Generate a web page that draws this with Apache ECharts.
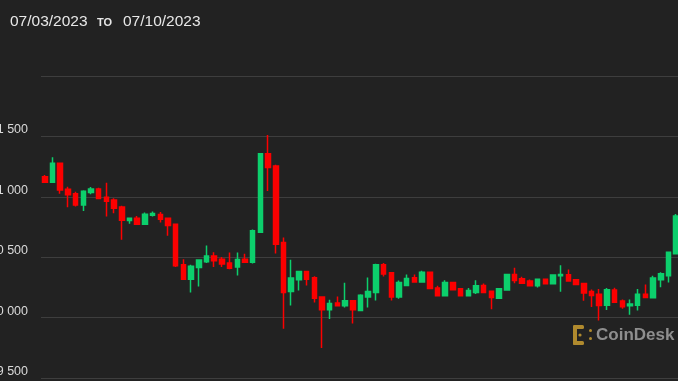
<!DOCTYPE html>
<html>
<head>
<meta charset="utf-8">
<script src="https://cdn.jsdelivr.net/npm/echarts@6/dist/echarts.min.js"></script>
<style>
html,body{margin:0;padding:0;background:#222222;}
#c{width:678px;height:381px;}
</style>
</head>
<body>
<div id="c"></div>
<script>
// 2-hour candles, 07/03/2023 to 07/10/2023
var openVals = [31167,31121,31278,31063,31026,30933,31035,31065,30997,30974,30916,30803,30823,30773,30848,30853,30823,30773,30437,30318,30414,30462,30509,30484,30453,30418,30484,30459,30707,31357,31256,30621,30216,30313,30381,30329,30170,30065,30120,30098,30139,30059,30170,30208,30437,30371,30170,30266,30329,30294,30376,30246,30180,30290,30238,30180,30208,30266,30219,30161,30228,30357,30321,30302,30263,30318,30280,30346,30354,30313,30282,30216,30194,30103,30228,30137,30098,30103,30194,30164,30313,30346,30528];
var closeVals = [31121,31278,31057,31016,30933,31046,31065,30985,30964,30906,30806,30823,30773,30856,30861,30815,30762,30429,30318,30426,30476,30509,30470,30443,30409,30481,30459,30718,31357,31242,30608,30208,30327,30381,30318,30161,30065,30117,30098,30139,30065,30186,30216,30437,30360,30170,30290,30324,30294,30376,30241,30180,30290,30230,30180,30224,30263,30208,30166,30238,30357,30307,30285,30263,30318,30280,30352,30357,30302,30274,30203,30183,30100,30230,30128,30089,30112,30194,30166,30327,30362,30542,30842];
var lowVals = [31115,31115,31026,30914,30919,30883,31022,30983,30836,30864,30644,30776,30772,30771,30836,30787,30677,30418,30313,30208,30257,30451,30418,30418,30401,30348,30457,30448,30706,31049,30530,29907,30100,30224,30266,30125,29748,29988,30095,30084,29951,30056,30084,30142,30340,30142,30156,30263,30292,30292,30236,30178,30178,30228,30178,30178,30195,30205,30070,30160,30226,30285,30284,30261,30249,30277,30277,30213,30300,30271,30139,30087,29976,30062,30127,30073,30023,30059,30164,30161,30252,30290,30524];
var highVals = [31181,31328,31280,31084,31041,31055,31082,31074,31117,30988,30925,30826,30842,30869,30878,30875,30826,30776,30484,30437,30478,30596,30542,30501,30539,30539,30528,30729,31359,31512,31266,30663,30478,30387,30385,30343,30172,30147,30175,30288,30143,30194,30332,30445,30451,30375,30307,30357,30357,30387,30379,30263,30310,30292,30241,30244,30310,30282,30222,30241,30358,30412,30338,30315,30321,30321,30357,30434,30398,30315,30284,30233,30236,30244,30247,30150,30150,30236,30274,30346,30376,30547,30858];
var yTicks = [29500, 30000, 30500, 31000, 31500, 32000];
var titleFrom = '07/03/2023';
var titleTo = '07/10/2023';

var categories = [];
for (var i = 0; i < openVals.length; i++) {
  var day = 3 + Math.floor(i / 12);
  var hr = (i % 12) * 2;
  categories.push('07/' + (day < 10 ? '0' + day : day) + ' ' + (hr < 10 ? '0' + hr : hr) + ':00');
}
var candleData = openVals.map(function (o, i) {
  return [o, closeVals[i], lowVals[i], highVals[i]];
});

function fmt(v) {
  if (v === yTicks[yTicks.length - 1]) return '';
  var th = Math.floor(v / 1000);
  var r = v % 1000;
  var rs = r < 10 ? '00' + r : (r < 100 ? '0' + r : '' + r);
  return th + ' ' + rs;
}

var chart = echarts.init(document.getElementById('c'), null, {renderer: 'canvas'});
chart.setOption({
  animation: false,
  backgroundColor: '#222222',
  grid: {left: 41, top: 76, width: 639, height: 302, containLabel: false, outerBoundsMode: 'none'},
  xAxis: {
    type: 'category',
    data: categories,
    boundaryGap: true,
    axisLine: {show: false},
    axisTick: {show: false},
    axisLabel: {show: false},
    splitLine: {show: false}
  },
  yAxis: {
    type: 'value',
    min: yTicks[0],
    max: yTicks[yTicks.length - 1],
    interval: 500,
    axisLine: {show: false},
    axisTick: {show: false},
    splitLine: {show: true, lineStyle: {color: '#3e3e3e', width: 1}},
    axisLabel: {
      formatter: fmt,
      color: '#dadada',
      fontFamily: 'Liberation Sans, Arial, sans-serif',
      fontSize: 12.5,
      margin: 13,
      verticalAlign: 'bottom'
    }
  },
  series: [{
    type: 'candlestick',
    data: candleData,
    barWidth: 5,
    itemStyle: {
      color: '#0ccf6c',
      color0: '#fc0000',
      borderColor: '#0ccf6c',
      borderColor0: '#fc0000',
      borderWidth: 1.5
    }
  }],
  graphic: [
    {type: 'text', left: 10, top: 14, style: {text: titleFrom, fill: '#e8e8e8', font: '15.5px "Liberation Sans", Arial, sans-serif'}},
    {type: 'text', left: 97, top: 17, style: {text: 'TO', fill: '#e8e8e8', font: 'bold 11px "Liberation Sans", Arial, sans-serif'}},
    {type: 'text', left: 123, top: 14, style: {text: titleTo, fill: '#e8e8e8', font: '15.5px "Liberation Sans", Arial, sans-serif'}},
    {type: 'group', left: 573, top: 325, children: [
      {type: 'rect', shape: {x: 0, y: 1, width: 4, height: 20, r: 1.5}, style: {fill: '#b08a2e'}},
      {type: 'rect', shape: {x: 0, y: 1, width: 11, height: 4, r: 1.5}, style: {fill: '#b08a2e'}},
      {type: 'rect', shape: {x: 0, y: 17, width: 11, height: 4, r: 1.5}, style: {fill: '#b08a2e'}},
      {type: 'circle', shape: {cx: 7, cy: 11, r: 1.6}, style: {fill: '#b08a2e'}},
      {type: 'circle', shape: {cx: 17.5, cy: 6.5, r: 1.5}, style: {fill: '#b08a2e'}},
      {type: 'circle', shape: {cx: 17.5, cy: 14.5, r: 1.5}, style: {fill: '#b08a2e'}}
    ]},
    {type: 'text', left: 596, top: 327, style: {text: 'CoinDesk', fill: '#8e8e8e', font: 'bold 17px "Liberation Sans", Arial, sans-serif'}}
  ]
});
</script>
</body>
</html>
